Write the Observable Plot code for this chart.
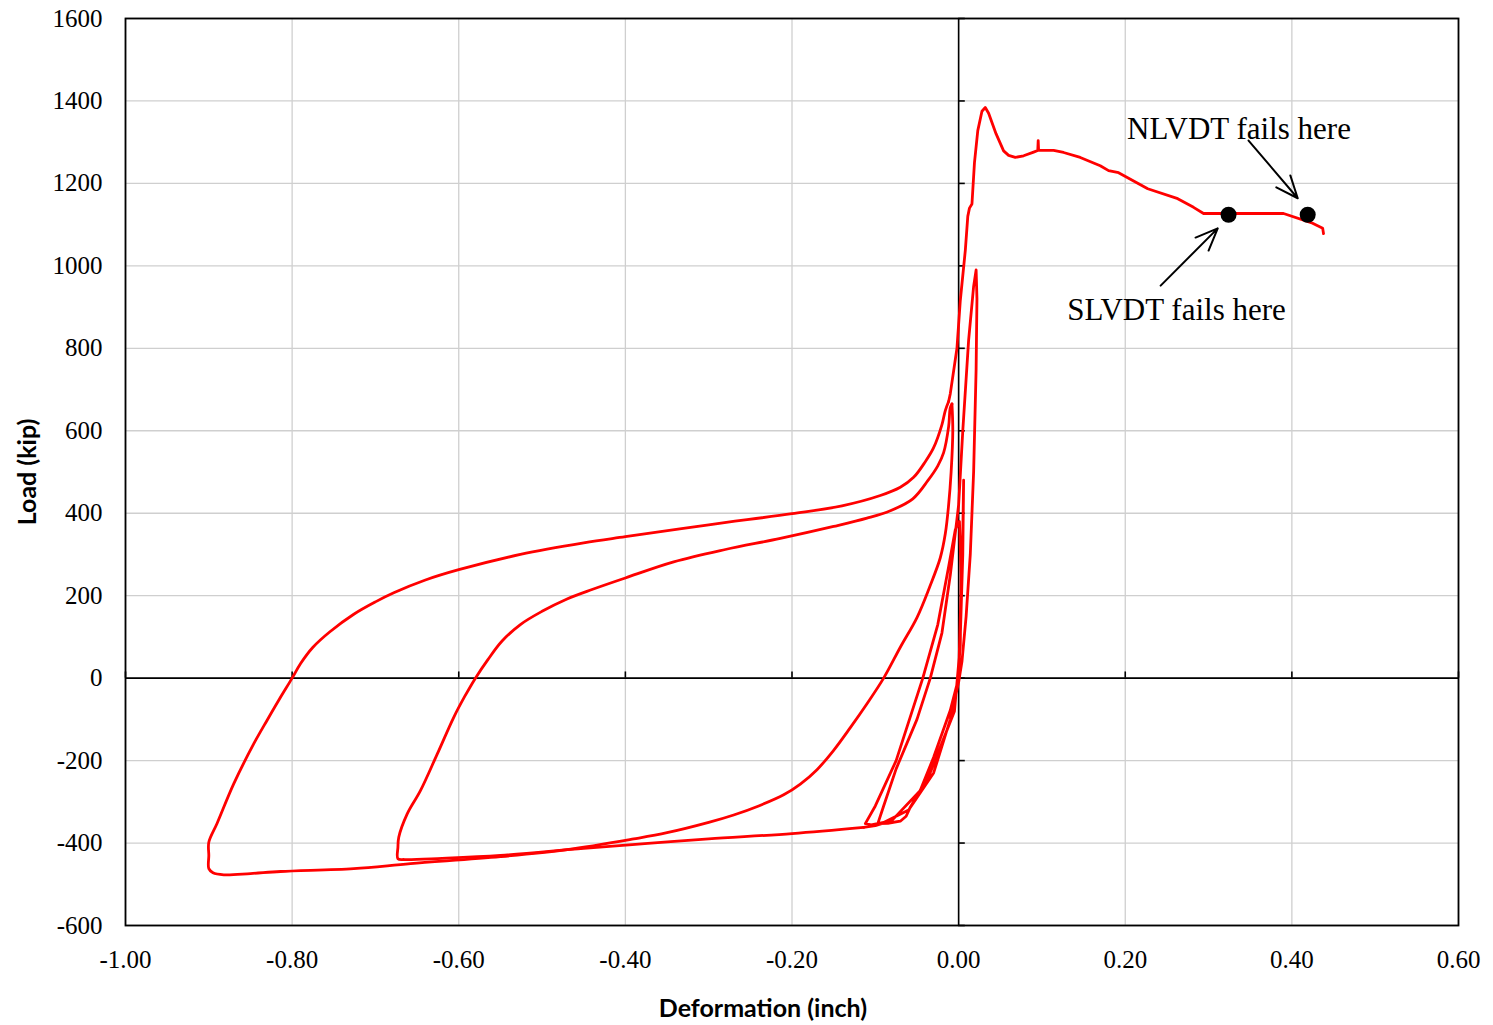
<!DOCTYPE html>
<html>
<head>
<meta charset="utf-8">
<script src="https://cdn.jsdelivr.net/npm/d3@7"></script>
<script src="https://cdn.jsdelivr.net/npm/@observablehq/plot@0.6"></script>
<style>
  html, body { margin: 0; padding: 0; background: #fff; }
  #chart { width: 1493px; height: 1025px; }
</style>
</head>
<body>
<div id="chart"></div>
<script>
// ---- Data (deformation in inch, load in kip) ----
const xTicks = [-1.0, -0.8, -0.6, -0.4, -0.2, 0.0, 0.2, 0.4, 0.6];
const yTicks = [-600, -400, -200, 0, 200, 400, 600, 800, 1000, 1200, 1400, 1600];

// small elastic cycles near the origin
const smallDef  = [0, 0.002, 0.005, 0.006, 0.005, 0.002, 0, -0.01, -0.03, -0.046, -0.058, -0.063, -0.07, -0.085, -0.097,
                   -0.09, -0.075, -0.05, -0.034, -0.02, -0.01, 0, 0.005, 0.012, 0.018, 0.021, 0.022, 0.021, 0.018, 0.014, 0.009, 0.004, 0,
                   -0.01, -0.03, -0.06, -0.09, -0.105, -0.112,
                   -0.1, -0.075, -0.043, -0.025, -0.012, -0.004, 0.001, 0.003, 0.002, -0.005, -0.04, -0.08, -0.1, -0.114];
const smallLoad = [0, 100, 300, 480, 350, 150, 0, -78, -192, -272, -313, -335, -347, -352, -353,
                   -310, -220, -100, 0, 110, 250, 420, 600, 820, 950, 990, 920, 750, 500, 300, 150, 40, -10,
                   -100, -230, -320, -350, -356, -353,
                   -310, -200, 0, 130, 270, 360, 380, 250, 80, -80, -260, -345, -358, -362];

// first large negative excursion (to -0.67 in) and reload
const firstDef  = [-0.114, -0.2, -0.3, -0.373, -0.45, -0.55, -0.62, -0.665, -0.673,
                   -0.673, -0.672, -0.662, -0.646, -0.626, -0.606, -0.593, -0.58, -0.565, -0.548, -0.526, -0.5, -0.47, -0.44, -0.4,
                   -0.342, -0.28, -0.214, -0.15, -0.11, -0.082, -0.055, -0.037, -0.025, -0.018, -0.012, -0.01, -0.008];
const firstLoad = [-362, -377, -390, -401, -413, -430, -437, -440, -438,
                   -410, -386, -330, -273, -185, -95, -45, 0, 45, 90, 130, 162, 192, 215, 243,
                   282, 312, 339, 368, 388, 406, 435, 479, 515, 547, 610, 656, 665];

// unloading and second large negative excursion (to -0.90 in), then reload
const secondDef  = [-0.008, -0.007, -0.009, -0.012, -0.016, -0.022, -0.035, -0.05, -0.07, -0.09, -0.11, -0.13, -0.15, -0.17,
                    -0.19, -0.21, -0.24, -0.27, -0.3, -0.35, -0.39, -0.47, -0.55, -0.658, -0.726, -0.814, -0.85, -0.882,
                    -0.895, -0.9, -0.9, -0.9,
                    -0.89, -0.87, -0.846, -0.83, -0.815, -0.8, -0.79, -0.775, -0.755, -0.726, -0.7, -0.678, -0.64, -0.6,
                    -0.526, -0.45, -0.4, -0.3, -0.2, -0.14, -0.094, -0.07, -0.054, -0.04, -0.03, -0.02, -0.016, -0.012];
const secondLoad = [665, 600, 500, 420, 350, 292, 220, 147, 75, 0, -62, -120, -175, -222,
                    -257, -283, -310, -332, -350, -375, -390, -416, -433, -450, -462, -469, -474, -477,
                    -472, -462, -430, -398,
                    -352, -256, -159, -102, -50, 0, 35, 75, 112, 155, 185, 207, 238, 263,
                    300, 328, 343, 372, 399, 418, 443, 463, 487, 525, 559, 615, 649, 671];

// final positive loading envelope
const finalDef  = [-0.012, -0.01, -0.002, 0.002, 0.008, 0.011, 0.013, 0.016, 0.019, 0.023, 0.028, 0.032, 0.036, 0.045, 0.054,
                   0.06, 0.068, 0.078, 0.09, 0.095, 0.0955, 0.096, 0.114, 0.126, 0.146, 0.17, 0.18, 0.192, 0.227, 0.263,
                   0.282, 0.294, 0.39, 0.423, 0.437, 0.438];
const finalLoad = [671, 690, 800, 916, 1037, 1120, 1140, 1150, 1250, 1328, 1375, 1384, 1370, 1320, 1279,
                   1268, 1263, 1267, 1276, 1280, 1304, 1280, 1280, 1275, 1263, 1243, 1231, 1226, 1187, 1163,
                   1142, 1127, 1127, 1105, 1091, 1078];

// failure markers and annotations
const failDef  = [0.324, 0.419];
const failLoad = [1124, 1124];
const noteLabels = ["SLVDT fails here", "NLVDT fails here"];
const noteDef    = [0.2615, 0.3365];
const noteLoad   = [893, 1331];
const arrowFromDef  = [0.2425, 0.348];
const arrowFromLoad = [952, 1304];
const arrowToDef    = [0.311, 0.407];
const arrowToLoad   = [1091, 1164];

// ---- Build ----
const serif = "'Liberation Serif', 'Times New Roman', serif";
const sans = "Lato, 'Open Sans', sans-serif";
const pts = (xs, ys) => xs.map((x, i) => ({x, y: ys[i]}));
const lineStyle = {x: "x", y: "y", stroke: "#ff0000", strokeWidth: 2.8};
const markers = pts(failDef, failLoad);
const notes = noteLabels.map((t, i) => ({t, x: noteDef[i], y: noteLoad[i]}));
const arrows = arrowFromDef.map((d, i) => ({x1: d, y1: arrowFromLoad[i], x2: arrowToDef[i], y2: arrowToLoad[i]}));
const fmtX = d => d.toFixed(2);
const fmtY = d => String(d);

const chart = Plot.plot({
  width: 1493,
  height: 1025,
  marginLeft: 125,
  marginRight: 35,
  marginTop: 18,
  marginBottom: 100,
  style: {fontFamily: serif, fontSize: "25px", background: "#fff", color: "#000"},
  x: {domain: [-1.0, 0.6], axis: null},
  y: {domain: [-600, 1600], axis: null},
  marks: [
    Plot.gridX(xTicks, {stroke: "#cfcfcf", strokeOpacity: 1, strokeWidth: 1.3}),
    Plot.gridY(yTicks, {stroke: "#cfcfcf", strokeOpacity: 1, strokeWidth: 1.3}),
    Plot.ruleX([0], {stroke: "#000", strokeWidth: 1.6}),
    Plot.ruleY([0], {stroke: "#000", strokeWidth: 1.6}),
    Plot.ruleX(xTicks, {x: d => d, y1: 0, y2: 15, stroke: "#000", strokeWidth: 1.6}),
    Plot.ruleY(yTicks, {y: d => d, x1: 0, x2: 0.008, stroke: "#000", strokeWidth: 1.6}),
    // tick labels (drawn as text marks positioned by the scales)
    Plot.text(xTicks, {x: d => d, text: fmtX, frameAnchor: "bottom", textAnchor: "middle", lineAnchor: "middle", dy: 34, fontSize: 25, fontFamily: serif, fill: "#000"}),
    Plot.text(yTicks, {y: d => d, text: fmtY, frameAnchor: "left", textAnchor: "end", lineAnchor: "middle", dx: -23, fontSize: 25, fontFamily: serif, fill: "#000"}),
    Plot.frame({stroke: "#000", strokeWidth: 1.8}),
    Plot.line(pts(smallDef, smallLoad), {...lineStyle, curve: "linear"}),
    Plot.line(pts(firstDef, firstLoad), {...lineStyle, curve: "catmull-rom"}),
    Plot.line(pts(secondDef, secondLoad), {...lineStyle, curve: "catmull-rom"}),
    Plot.line(pts(finalDef, finalLoad), {...lineStyle, curve: "linear"}),
    Plot.dot(markers, {x: "x", y: "y", r: 8, fill: "#000", stroke: "none"}),
    Plot.arrow(arrows, {x1: "x1", y1: "y1", x2: "x2", y2: "y2", stroke: "#000", strokeWidth: 2, headLength: 18, headAngle: 45}),
    Plot.text(notes, {x: "x", y: "y", text: "t", fontSize: 31, fill: "#000", fontFamily: serif}),
    Plot.text(["Deformation (inch)"], {frameAnchor: "bottom", textAnchor: "middle", lineAnchor: "middle", dx: -29, dy: 83, fontSize: 25, fontWeight: "bold", fontFamily: sans, fill: "#000"}),
    Plot.text(["Load (kip)"], {frameAnchor: "left", textAnchor: "middle", lineAnchor: "middle", dx: -98, rotate: -90, fontSize: 25, fontWeight: "bold", fontFamily: sans, fill: "#000"})
  ]
});
document.getElementById("chart").appendChild(chart);
</script>
</body>
</html>
